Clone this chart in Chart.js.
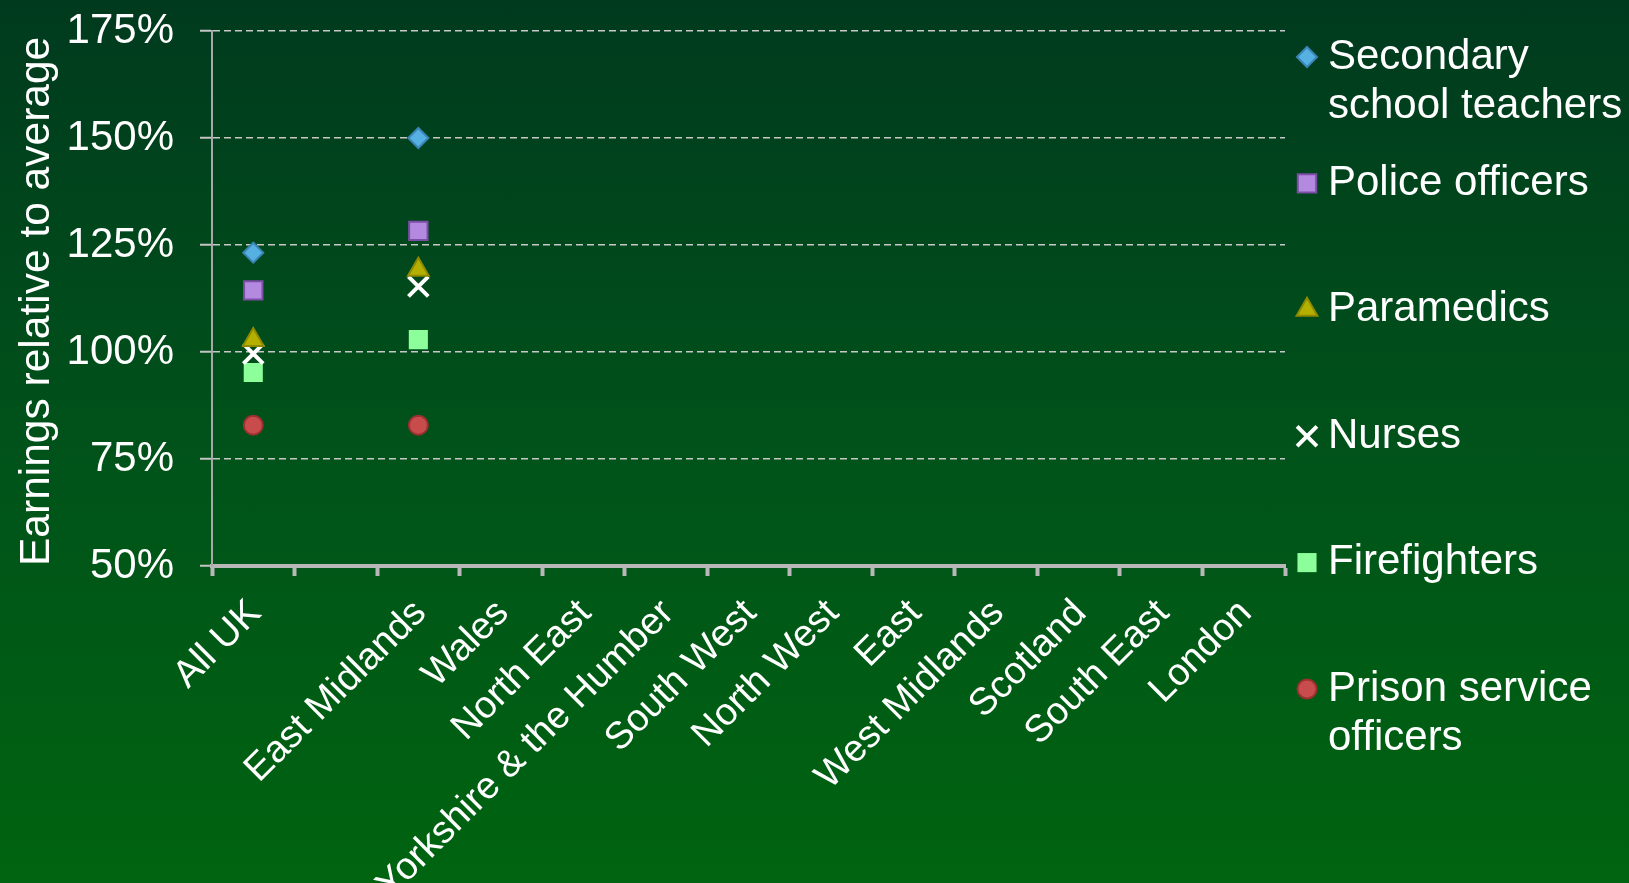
<!DOCTYPE html>
<html lang="en">
<head>
<meta charset="utf-8">
<title>Earnings relative to average</title>
<script src="https://cdn.jsdelivr.net/npm/chart.js@4.4.1/dist/chart.umd.min.js"></script>
<style>
  html, body {
    margin: 0;
    padding: 0;
    overflow: hidden;
  }
  body {
    width: 1629px;
    height: 883px;
    background: linear-gradient(to bottom, #003a1e 0%, #00521a 50%, #006410 100%);
  }
  .chart-wrap {
    position: relative;
    width: 1629px;
    height: 883px;
  }
</style>
</head>
<body>
<div class="chart-wrap">
  <canvas id="earningsChart"></canvas>
</div>
<script>
// Regions along the x axis (second slot is empty in the source chart)
const categories = ['All UK', '', 'East Midlands', 'Wales', 'North East', 'Yorkshire & the Humber',
  'South West', 'North West', 'East', 'West Midlands', 'Scotland', 'South East', 'London'];

// Earnings relative to average (%), only the first regions are filled in
const teachers = [123.2, null, 150.0, null, null, null, null, null, null, null, null, null, null];
const police = [114.4, null, 128.3, null, null, null, null, null, null, null, null, null, null];
const paramedics = [102.8, null, 119.2, null, null, null, null, null, null, null, null, null, null];
const nurses = [99.6, null, 115.3, null, null, null, null, null, null, null, null, null, null];
const firefighters = [95.2, null, 102.9, null, null, null, null, null, null, null, null, null, null];
const prisonOfficers = [82.9, null, 82.9, null, null, null, null, null, null, null, null, null, null];

// Legend text, split the way the source wraps it
const seriesLabels = [
  ['Secondary', 'school teachers'],
  ['Police officers'],
  ['Paramedics'],
  ['Nurses'],
  ['Firefighters'],
  ['Prison service', 'officers']
];

// Y axis
const yMin = 50;
const yMax = 175;
const yStep = 25;
const yTitle = 'Earnings relative to average';

document.addEventListener('DOMContentLoaded', function () {
  Chart.defaults.font.family = '"Liberation Sans", Arial, sans-serif';
  Chart.defaults.color = '#ffffff';

  function series(i, values, style) {
    return Object.assign({
      label: seriesLabels[i].join(' '),
      legendLines: seriesLabels[i],
      data: values,
      showLine: false,
      pointHoverRadius: 0
    }, style);
  }

  const datasets = [
    series(0, teachers, {
      pointStyle: 'rectRot', pointRadius: 10,
      pointBackgroundColor: '#56b0e2', pointBorderColor: '#3b85b6', pointBorderWidth: 2
    }),
    series(1, police, {
      pointStyle: 'rect', pointRadius: 13,
      pointBackgroundColor: '#b48ae0', pointBorderColor: '#7c4ea6', pointBorderWidth: 2
    }),
    series(2, paramedics, {
      pointStyle: 'triangle', pointRadius: 12,
      pointBackgroundColor: '#b5b000', pointBorderColor: '#8e8a00', pointBorderWidth: 2
    }),
    series(3, nurses, {
      pointStyle: 'crossRot', pointRadius: 14,
      pointBackgroundColor: '#ffffff', pointBorderColor: '#ffffff', pointBorderWidth: 4
    }),
    series(4, firefighters, {
      pointStyle: 'rect', pointRadius: 13.5,
      pointBackgroundColor: '#8cff9a', pointBorderColor: '#8cff9a', pointBorderWidth: 0
    }),
    series(5, prisonOfficers, {
      pointStyle: 'circle', pointRadius: 9.5,
      pointBackgroundColor: '#c84c4c', pointBorderColor: '#9c2f2f', pointBorderWidth: 2
    })
  ];

  // Legend on the right, drawn on the canvas so multi-line labels work
  const sideLegend = {
    id: 'sideLegend',
    afterDraw(chart) {
      const ctx = chart.ctx;
      const markerX = 1307;
      const textX = 1328;
      const firstY = 57;
      const rowStep = 126.4;
      const lineHeight = 49;

      ctx.save();
      chart.data.datasets.forEach((ds, i) => {
        const y = firstY + i * rowStep;
        ctx.fillStyle = ds.pointBackgroundColor;
        ctx.strokeStyle = ds.pointBorderColor;
        ctx.lineWidth = ds.pointBorderWidth;
        Chart.helpers.drawPoint(ctx, {
          pointStyle: ds.pointStyle,
          radius: ds.pointRadius,
          borderWidth: ds.pointBorderWidth,
          rotation: 0
        }, markerX, y);

        ctx.fillStyle = '#ffffff';
        ctx.font = '42px "Liberation Sans", Arial, sans-serif';
        ctx.textAlign = 'left';
        ctx.textBaseline = 'middle';
        ds.legendLines.forEach((line, j) => {
          ctx.fillText(line, textX, y + j * lineHeight);
        });
      });
      ctx.restore();
    }
  };

  const ctx = document.getElementById('earningsChart');
  new Chart(ctx, {
    type: 'line',
    data: {
      labels: categories,
      datasets: datasets
    },
    options: {
      responsive: true,
      maintainAspectRatio: false,
      animation: false,
      layout: {
        padding: { top: 31, right: 344, bottom: 0, left: 0 }
      },
      plugins: {
        legend: { display: false },
        tooltip: { enabled: false }
      },
      scales: {
        x: {
          offset: true,
          grid: {
            offset: true,
            drawOnChartArea: false,
            drawTicks: true,
            tickLength: 10,
            tickWidth: 4,
            tickColor: '#b8b8b8'
          },
          border: { color: '#b8b8b8', width: 4 },
          ticks: {
            color: '#ffffff',
            font: { size: 38 },
            autoSkip: false,
            minRotation: 45,
            maxRotation: 45,
            padding: 15,
            labelOffset: 2
          },
          afterFit: (scale) => { scale.height = 317; }
        },
        y: {
          min: yMin,
          max: yMax,
          ticks: {
            stepSize: yStep,
            color: '#ffffff',
            font: { size: 42 },
            padding: 26,
            callback: (v) => v + '%'
          },
          grid: {
            color: '#c8c8c8',
            lineWidth: 1.5,
            tickLength: 12,
            tickColor: '#c4c4c4',
            tickWidth: 2,
            tickBorderDash: []
          },
          border: { color: '#a8a8a8', width: 2, dash: [7, 4] },
          title: {
            display: true,
            text: yTitle,
            color: '#ffffff',
            align: 'start',
            font: { size: 42.5 },
            padding: { top: 12, bottom: 0 }
          },
          afterFit: (scale) => {
            scale.width = 212;
            // let the layout padding alone decide the top of the plot
            scale.paddingTop = 0;
            scale.paddingBottom = 0;
          }
        }
      }
    },
    plugins: [sideLegend]
  });
});
</script>
</body>
</html>
